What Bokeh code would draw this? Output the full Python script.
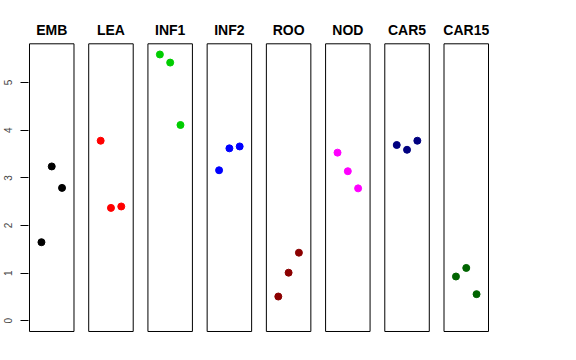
from bokeh.plotting import figure
from bokeh.models import Range1d, FixedTicker, ColumnDataSource
from bokeh.embed import file_html
from bokeh.resources import INLINE
from bokeh.core.properties import value

# ---- data ----
groups = ["EMB", "LEA", "INF1", "INF2", "ROO", "NOD", "CAR5", "CAR15"]
colors = ["black", "red", "#00CD00", "blue", "#8B0000", "magenta", "#000080", "#006400"]
reps = [1, 2, 3]
emb = [1.65, 3.24, 2.79]
lea = [3.78, 2.37, 2.40]
inf1 = [5.59, 5.42, 4.11]
inf2 = [3.16, 3.62, 3.66]
roo = [0.51, 1.01, 1.43]
nod = [3.53, 3.14, 2.78]
car5 = [3.69, 3.59, 3.78]
car15 = [0.93, 1.11, 0.56]
series = [emb, lea, inf1, inf2, roo, nod, car5, car15]
yticks = [0, 1, 2, 3, 4, 5]

# ---- layout parameters ----
spacing = 5.75          # panel-to-panel offset in x units
xlo, xhi = -0.16, 4.16  # panel x-limits (0..4 with 4% padding)
ylo, yhi = -0.224, 5.814
offsets = [i * spacing for i in range(len(groups))]

px_x = (xhi - xlo) / 44.5
x_start = xlo - px_x
x_end = offsets[-1] + xhi + px_x

p = figure(width=556, height=344, output_backend="svg", toolbar_location=None,
           x_range=Range1d(x_start, x_end), y_range=Range1d(-0.245, 6.513),
           min_border_left=28, min_border_right=67, min_border_top=10, min_border_bottom=12)
p.xaxis.visible = False
p.xgrid.visible = False
p.ygrid.visible = False
p.outline_line_color = None
p.background_fill_color = "white"
p.border_fill_color = "white"

ax = p.yaxis[0]
ax.ticker = FixedTicker(ticks=yticks)
ax.major_label_orientation = "vertical"
ax.major_tick_out = 8
ax.major_tick_in = 0
ax.minor_tick_line_color = None
ax.axis_line_color = None
ax.major_tick_line_color = "black"
ax.major_label_text_font = "Liberation Sans"
ax.major_label_text_font_size = "10px"
ax.major_label_standoff = 8

# panel boxes
box = ColumnDataSource(dict(left=[o + xlo for o in offsets], right=[o + xhi for o in offsets],
                            bottom=[ylo] * len(groups), top=[yhi] * len(groups)))
p.quad(left="left", right="right", bottom="bottom", top="top", source=box,
       fill_color=None, line_color="black", line_width=1)

# points
xs, ys, cs = [], [], []
for off, vals, c in zip(offsets, series, colors):
    for r, v in zip(reps, vals):
        xs.append(off + r)
        ys.append(v)
        cs.append(c)
p.scatter(x=xs, y=ys, color=cs, size=7, marker="circle")

# titles
p.text(x=[o + 2 for o in offsets], y=[6.108] * len(groups), text=groups,
       text_font=value("Liberation Sans"), text_font_style="bold", text_font_size="14px",
       text_align="center", text_baseline="middle", text_color="black")

open("out.html", "w").write(file_html(p, INLINE))
